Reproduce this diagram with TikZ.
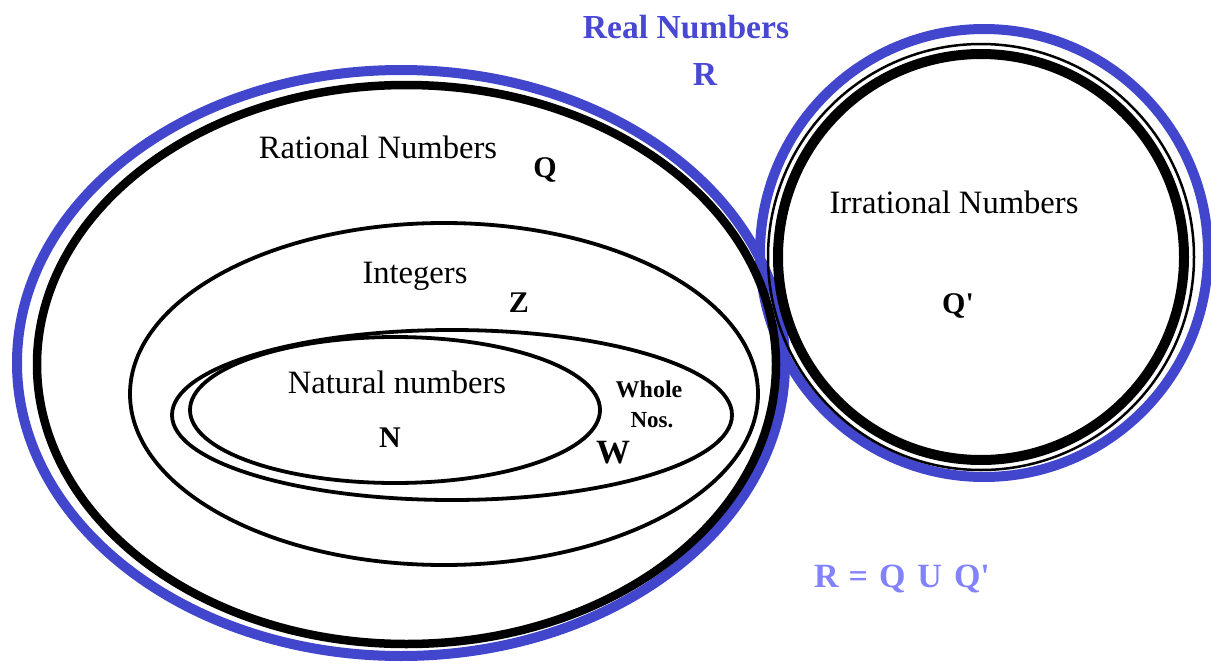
\documentclass[tikz,border=0pt]{standalone}
\usepackage{fontspec}
\setmainfont{Liberation Serif}
\definecolor{outlineblue}{RGB}{66,70,204}
\definecolor{titleblue}{RGB}{72,72,210}
\definecolor{lightblue}{RGB}{130,130,255}
\tikzset{
  blueline/.style={draw=outlineblue, line width=10pt},
  bigline/.style={draw=black, line width=8.5pt},
  setline/.style={draw=black, line width=3.8pt},
  lbl/.style={anchor=base, inner sep=0pt, font=\fontsize{32.6}{36}\selectfont},
  sym/.style={anchor=base, inner sep=0pt, font=\fontsize{30}{34}\selectfont\bfseries},
}
\begin{document}
\begin{tikzpicture}[x=1pt, y=-1pt]
\useasboundingbox (0,0) rectangle (1211,664);
% blue outlines
\draw[blueline] (401,363) ellipse [x radius=384, y radius=293];
\draw[blueline] (984,253) circle [radius=224];
% rational numbers
\draw[bigline] (406.5,364.5) ellipse [x radius=369.5, y radius=279.5];
% irrational numbers
\draw[draw=black, line width=2.5pt] (981,257) circle [radius=213];
\draw[draw=black, line width=10pt] (981,257) circle [radius=203];
% integers
\draw[setline] (444,394) ellipse [x radius=314, y radius=171];
% whole numbers
\draw[setline] (452,415) ellipse [x radius=280, y radius=85];
% natural numbers
\draw[setline] (395,410) ellipse [x radius=205, y radius=73];
% labels
\node[anchor=base, inner sep=0pt, text=titleblue, font=\fontsize{33.6}{36}\selectfont\bfseries] (realt) at (686,38) {Real Numbers};
\node[anchor=base, inner sep=0pt, text=titleblue, font=\fontsize{33.6}{36}\selectfont\bfseries] (realr) at (705,85) {R};
\node[lbl] (ratt) at (378,158) {Rational Numbers};
\node[sym] (ratq) at (545,177) {Q};
\node[lbl] (intt) at (415,283) {Integers};
\node[sym] (intz) at (519,312) {Z};
\node[lbl] (natt) at (397,393) {Natural numbers};
\node[sym] (natn) at (390,447) {N};
\node[anchor=base, inner sep=0pt, font=\fontsize{24}{26}\selectfont\bfseries] (wholet) at (649,397) {Whole};
\node[anchor=base, inner sep=0pt, font=\fontsize{23}{26}\selectfont\bfseries] (noss) at (652,427) {Nos.};
\node[anchor=base, inner sep=0pt, font=\fontsize{34}{36}\selectfont\bfseries] (wholew) at (613,463) {W};
\node[lbl] (irrt) at (954,213) {Irrational Numbers};
\node[sym] (irrq) at (958,313) {Q\textquotesingle};
\node[anchor=base, inner sep=0pt, text=lightblue, font=\fontsize{34}{36}\selectfont\bfseries] (union) at (902,587) {R\hspace{10pt}=\hspace{11pt}Q\hspace{12pt}U\hspace{12pt}Q\textquotesingle};
\end{tikzpicture}
\end{document}
